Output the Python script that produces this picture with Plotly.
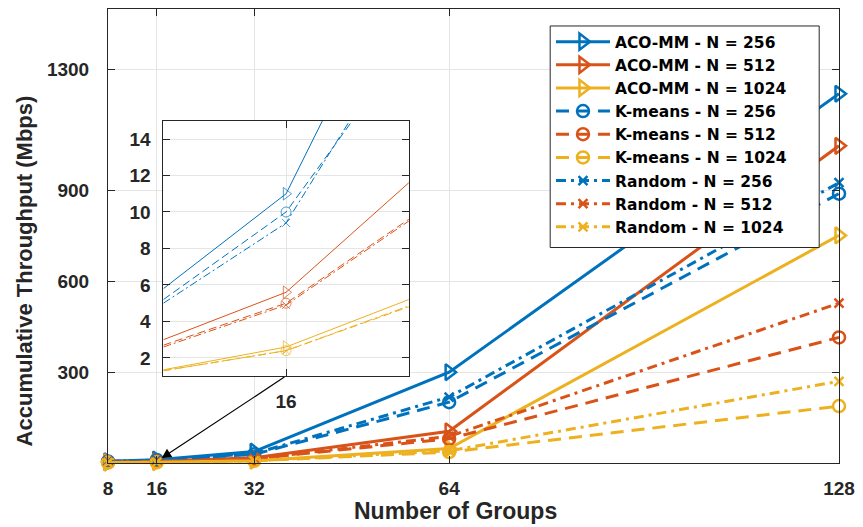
import plotly.graph_objects as go

# Number of groups (x axis)
groups = [8, 16, 32, 64, 128]

# Accumulative throughput (Mbps) per method and network size
aco_256 = [5.8, 11.0, 38, 300, 1220]
aco_512 = [3.0, 5.6, 17.6, 105, 1048]
aco_1024 = [1.35, 2.6, 7.8, 48, 752]
km_256 = [5.2, 10.0, 28.5, 201, 890]
km_512 = [2.7, 5.0, 14.2, 80, 415]
km_1024 = [1.3, 2.4, 7.2, 36, 188]
rnd_256 = [5.0, 9.4, 31, 218, 926]
rnd_512 = [2.6, 4.9, 14.1, 88, 528]
rnd_1024 = [1.3, 2.4, 7.3, 40, 270]

x_ticks = [8, 16, 32, 64, 128]
y_ticks = [300, 600, 900, 1300]
inset_y_ticks = [2, 4, 6, 8, 10, 12, 14]
inset_x_ticks = [16]

BLUE, RED, YELLOW = "#0072BD", "#D95319", "#EDB120"
AX = "#262626"
GRID = "#E5E5E5"
FONT = "Liberation Sans"

series = [
    ("ACO-MM - N = 256", aco_256, BLUE, "solid", "triangle-right-open"),
    ("ACO-MM - N = 512", aco_512, RED, "solid", "triangle-right-open"),
    ("ACO-MM - N = 1024", aco_1024, YELLOW, "solid", "triangle-right-open"),
    ("K-means - N = 256", km_256, BLUE, "13px,8px", "circle-open"),
    ("K-means - N = 512", km_512, RED, "13px,8px", "circle-open"),
    ("K-means - N = 1024", km_1024, YELLOW, "13px,8px", "circle-open"),
    ("Random - N = 256", rnd_256, BLUE, "10px,5px,3px,5px", "x-thin-open"),
    ("Random - N = 512", rnd_512, RED, "10px,5px,3px,5px", "x-thin-open"),
    ("Random - N = 1024", rnd_1024, YELLOW, "10px,5px,3px,5px", "x-thin-open"),
]

inset_dash = {"solid": "solid", "13px,8px": "8px,4px", "10px,5px,3px,5px": "8px,3px,2px,3px"}

fig = go.Figure()

for name, vals, color, dash, symbol in series:
    size = 14 if symbol.startswith("triangle") else (12 if symbol.startswith("circle") else 9)
    fig.add_trace(go.Scatter(
        x=groups, y=vals, name=name, mode="lines+markers",
        line=dict(color=color, width=3, dash=dash),
        marker=dict(symbol=symbol, size=size, color=color, line=dict(width=2.5, color=color)),
        cliponaxis=False,
    ))

# Zoomed view around 16 groups (markers only at that point)
for name, vals, color, dash, symbol in series:
    size = 11 if symbol.startswith("triangle") else (10 if symbol.startswith("circle") else 8)
    fig.add_trace(go.Scatter(
        x=groups, y=vals, mode="lines+markers", showlegend=False,
        xaxis="x2", yaxis="y2",
        line=dict(color=color, width=1, dash=inset_dash[dash]),
        marker=dict(symbol=symbol, size=[size if g == 16 else 0 for g in groups],
                    color=color, line=dict(width=1, color=color)),
    ))

axis_common = dict(
    showline=True, linecolor=AX, linewidth=1, mirror="ticks",
    ticks="inside", ticklen=7, tickcolor=AX, tickwidth=1,
    showgrid=True, gridcolor=GRID, gridwidth=1, zeroline=False,
    ticklabeloverflow="allow",
    tickfont=dict(size=19, color=AX, family=FONT, weight="bold"),
)

fig.update_layout(
    width=863, height=527,
    margin=dict(l=108, r=16, t=8, b=64),
    paper_bgcolor="white", plot_bgcolor="white",
    font=dict(family=FONT, weight="bold", color=AX, size=19),
    xaxis=dict(range=[8, 128], tickvals=x_ticks, ticklabelstandoff=8, **axis_common),
    yaxis=dict(range=[0, 1500], tickvals=y_ticks, ticklabelstandoff=14, **axis_common),
    xaxis2=dict(domain=[0.0758, 0.4114], anchor="y2", range=[8, 24],
                tickvals=inset_x_ticks, ticklabelstandoff=8, **axis_common),
    yaxis2=dict(domain=[0.1912, 0.7538], anchor="x2", range=[1, 15],
                tickvals=inset_y_ticks, ticklabelstandoff=8, **axis_common),
    legend=dict(
        x=0.606, y=0.9646, xanchor="left", yanchor="top",
        bgcolor="rgba(0,0,0,0)", borderwidth=0,
        font=dict(size=15.5, color="black", family="DejaVu Sans", weight="bold"),
        itemwidth=54, tracegroupgap=0,
    ),
    showlegend=True,
)

# Legend frame
fig.add_shape(
    type="rect", xref="paper", yref="paper", x0=0.6049, x1=0.9729, y0=0.4747, y1=0.9626,
    fillcolor="white", line=dict(color=AX, width=1), layer="above",
)

# Axis titles
fig.add_annotation(
    text="Number of Groups", xref="paper", yref="paper", x=0.476, y=0,
    yshift=-63, xanchor="center", yanchor="bottom", showarrow=False,
    font=dict(size=23, color=AX, family=FONT, weight="bold"),
)
fig.add_annotation(
    text="Accumulative Throughput (Mbps)", xref="paper", yref="paper", x=0, y=0.422,
    xshift=-84, xanchor="center", yanchor="middle", textangle=-90, showarrow=False,
    font=dict(size=22, color=AX, family=FONT, weight="bold"),
)

# Arrow from the zoomed view down to the 16-group points
fig.add_annotation(
    x=16.8, y=16, xref="x", yref="y", ax=37.2, ay=287, axref="x", ayref="y",
    text="", showarrow=True, arrowhead=2, arrowsize=1.6, arrowwidth=1.2, arrowcolor="black",
)

fig.write_html("out.html")
